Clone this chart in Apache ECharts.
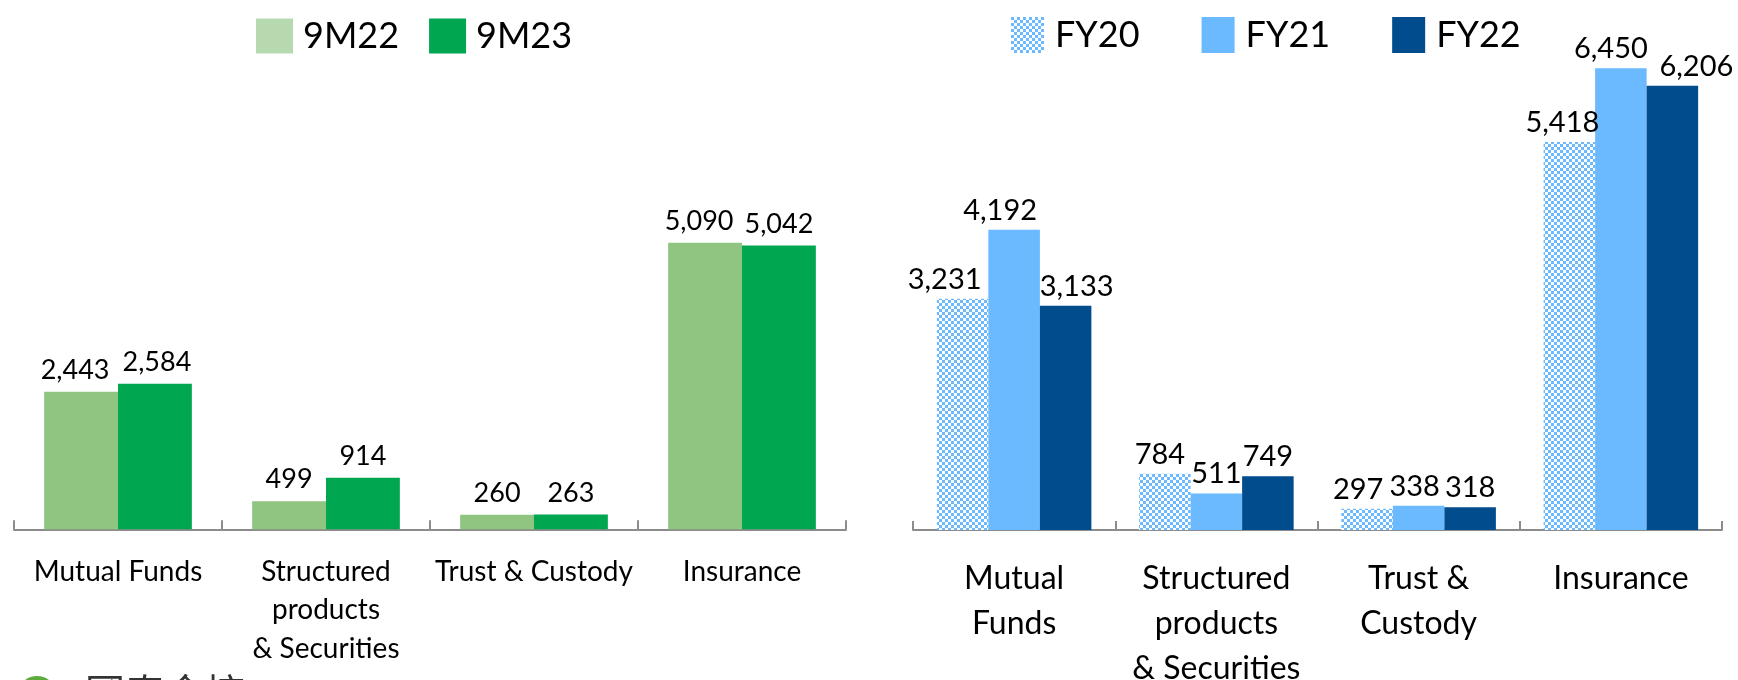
<!DOCTYPE html>
<html><head><meta charset="utf-8">
<script src="https://cdn.jsdelivr.net/npm/echarts@6/dist/echarts.min.js"></script>
<style>html,body{margin:0;padding:0;background:#fff}#c{width:1738px;height:680px}</style>
</head><body><div id="c"></div>
<script>
// ---- data ----
const leftCategories = ['Mutual Funds', 'Structured\nproducts\n& Securities', 'Trust & Custody', 'Insurance'];
const rightCategories = ['Mutual\nFunds', 'Structured\nproducts\n& Securities', 'Trust &\nCustody', 'Insurance'];
const leftSeriesNames = ['9M22', '9M23'];
const rightSeriesNames = ['FY20', 'FY21', 'FY22'];
const s9M22 = [2443, 499, 260, 5090];
const s9M23 = [2584, 914, 263, 5042];
const sFY20 = [3231, 784, 297, 5418];
const sFY21 = [4192, 511, 338, 6450];
const sFY22 = [3133, 749, 318, 6206];

// ---- styling ----
const FONT = "Lato, 'Open Sans', 'Noto Sans', sans-serif";
const labelNudgeFY = [[-18, -5, -9, -7], [-14, 0, -4, -10], [11, 0, 0, 24]];
const labelNudge9M = [[-6, 0, 0, -6], [2, 0, 0, 0]];

function checker() {
  const c = document.createElement('canvas');
  c.width = 6; c.height = 6;
  const g = c.getContext('2d');
  g.fillStyle = '#ffffff'; g.fillRect(0, 0, 6, 6);
  g.fillStyle = '#6BB9FF'; g.fillRect(0, 0, 3, 3); g.fillRect(3, 3, 3, 3);
  return c;
}
const fy20Pattern = { image: checker(), repeat: 'repeat' };

const fmt = p => Number(p.value).toLocaleString('en-US');
const axisCol = '#8c8c8c';

function withNudge(vals, nudges) {
  return vals.map((v, i) => ({ value: v, label: { offset: [nudges[i], 0] } }));
}

function xAx(grid, cats, fs, lh, margin) {
  return {
    type: 'category', gridIndex: grid, data: cats,
    axisLine: { show: true, lineStyle: { color: axisCol, width: 2 } },
    axisTick: { show: true, inside: true, length: 9, lineStyle: { color: axisCol, width: 2 } },
    axisLabel: { interval: 0, color: '#000', fontFamily: FONT, fontSize: fs, lineHeight: lh, margin: margin }
  };
}
function yAx(grid, max) {
  return { type: 'value', gridIndex: grid, min: 0, max: max, show: false, splitLine: { show: false } };
}
function lbl(fs, dist) {
  return { show: true, position: 'top', distance: dist, color: '#000', fontFamily: FONT, fontSize: fs, formatter: fmt };
}

const chart = echarts.init(document.getElementById('c'), null, { renderer: 'canvas' });
chart.setOption({
  animation: false,
  backgroundColor: '#fff',
  grid: [
    { left: 14, right: 892, top: 191.5, bottom: 150.7, containLabel: false, outerBoundsMode: 'none' },
    { left: 913, right: 16, top: 28.8, bottom: 150, containLabel: false, outerBoundsMode: 'none' }
  ],
  legend: [
    {
      left: 251, top: 13, itemWidth: 37, itemHeight: 35, itemGap: 30,
      textStyle: { fontFamily: FONT, fontSize: 36, color: '#000', padding: [0, 0, 0, 5] },
      icon: 'rect',
      data: [
        { name: leftSeriesNames[0], itemStyle: { color: '#B7D9AF' } },
        { name: leftSeriesNames[1] }
      ]
    },
    {
      left: 1006, top: 12, itemWidth: 33, itemHeight: 36, itemGap: 62,
      textStyle: { fontFamily: FONT, fontSize: 36, color: '#000', padding: [0, 0, 0, 6] },
      icon: 'rect',
      data: rightSeriesNames
    }
  ],
  xAxis: [
    xAx(0, leftCategories, 28, 38.5, 23),
    xAx(1, rightCategories, 32, 45, 26)
  ],
  yAxis: [yAx(0, 6000), yAx(1, 7000)],
  series: [
    { name: leftSeriesNames[0], type: 'bar', xAxisIndex: 0, yAxisIndex: 0, data: withNudge(s9M22, labelNudge9M[0]),
      barGap: '0%', barCategoryGap: '29%', itemStyle: { color: '#8FC581' }, label: lbl(27, 8) },
    { name: leftSeriesNames[1], type: 'bar', xAxisIndex: 0, yAxisIndex: 0, data: withNudge(s9M23, labelNudge9M[1]),
      barGap: '0%', barCategoryGap: '29%', itemStyle: { color: '#00A650' }, label: lbl(27, 8) },
    { name: rightSeriesNames[0], type: 'bar', xAxisIndex: 1, yAxisIndex: 1, data: withNudge(sFY20, labelNudgeFY[0]),
      barGap: '0%', barCategoryGap: '23.6%', itemStyle: { color: fy20Pattern }, label: lbl(29, 5) },
    { name: rightSeriesNames[1], type: 'bar', xAxisIndex: 1, yAxisIndex: 1, data: withNudge(sFY21, labelNudgeFY[1]),
      barGap: '0%', barCategoryGap: '23.6%', itemStyle: { color: '#6BB9FF' }, label: lbl(29, 5) },
    { name: rightSeriesNames[2], type: 'bar', xAxisIndex: 1, yAxisIndex: 1, data: withNudge(sFY22, labelNudgeFY[2]),
      barGap: '0%', barCategoryGap: '23.6%', itemStyle: { color: '#004C8C' }, label: lbl(29, 5) }
  ],
  graphic: [
    { type: 'ellipse', shape: { cx: 37, cy: 692, rx: 18, ry: 16 }, style: { fill: '#5DAA3E' } },
    { type: 'text', left: 85, top: 673, style: { text: '國泰金控', fontFamily: "'Noto Sans CJK TC', sans-serif", fontSize: 40, fill: '#333' } }
  ]
});
</script></body></html>
